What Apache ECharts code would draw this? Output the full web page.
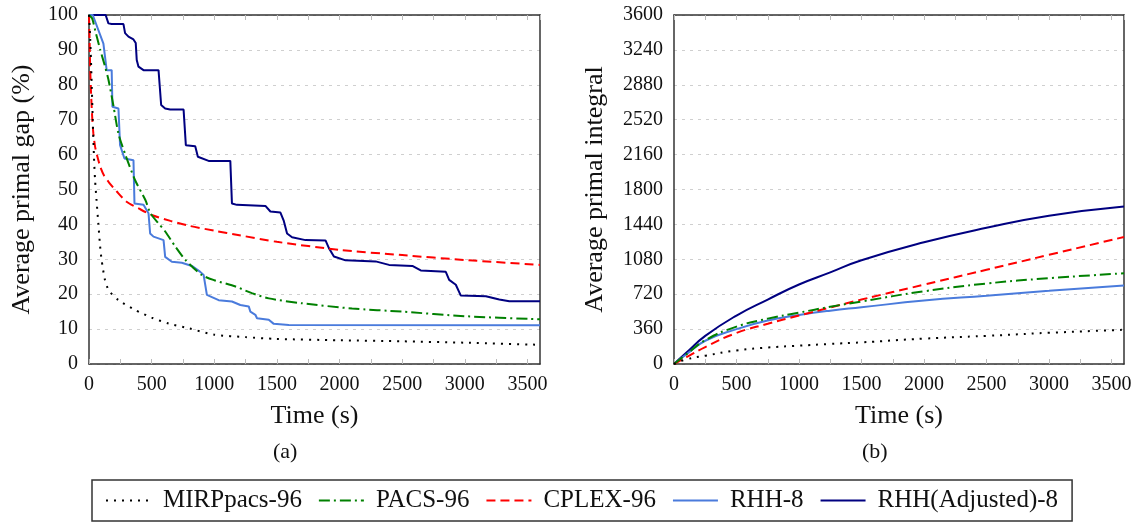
<!DOCTYPE html>
<html>
<head>
<meta charset="utf-8">
<script src="https://cdn.jsdelivr.net/npm/echarts@6/dist/echarts.min.js"></script>
<style>html,body{margin:0;padding:0;background:#fff;}#c{width:1137px;height:524px;}</style>
</head>
<body>
<div id="c"></div>
<script>
// ---------- DATA ----------
const seriesNames = ['MIRPpacs-96', 'PACS-96', 'CPLEX-96', 'RHH-8', 'RHH(Adjusted)-8'];
const xTickLabels = ['0', '500', '1000', '1500', '2000', '2500', '3000', '3500'];

// (a) Average primal gap (%)
const gapMirpT = [0, 10, 20, 30, 40, 48, 60, 75, 88, 100, 128, 160, 235, 368, 500, 635, 800, 1000, 1250, 1488, 2000, 2500, 3000, 3600];
const gapMirpV = [100, 93, 82, 70, 59, 53, 47, 40, 34, 30, 24, 21, 18.3, 15.5, 13.3, 11.6, 10.2, 8.4, 7.7, 7.2, 6.8, 6.5, 6.1, 5.5];

const gapPacsT = [0, 25, 50, 90, 130, 155, 195, 235, 290, 370, 450, 490, 550, 610, 690, 770, 900, 1000, 1170, 1300, 1435, 1700, 2100, 2500, 3000, 3600];
const gapPacsV = [100, 99, 95.5, 90, 85, 81.5, 74, 66, 60, 52.5, 47, 43.2, 40.5, 37.9, 33.6, 29.8, 25.5, 24, 22.2, 20.3, 18.8, 17.4, 15.9, 15, 13.7, 12.8];

const gapCplexT = [0, 5, 10, 16, 25, 35, 50, 70, 90, 120, 160, 220, 300, 400, 500, 650, 800, 1000, 1200, 1500, 2000, 2500, 3000, 3600];
const gapCplexV = [100, 92, 84, 78, 71, 66, 62, 59, 56.5, 54, 52, 49.5, 46.5, 44.5, 42.7, 41, 39.6, 38.2, 36.9, 35, 32.7, 31.2, 29.8, 28.4];

const gapRhhT = [0, 30, 115, 141, 181, 187, 235, 248, 283, 355, 363, 435, 475, 488, 515, 595, 608, 661, 741, 821, 888, 915, 941, 1035, 1141, 1208, 1275, 1288, 1328, 1341, 1435, 1475, 1595, 3600];
const gapRhhV = [100, 100, 91.8, 84.2, 84.2, 73.7, 73.2, 62.7, 58.9, 58.4, 46, 45.6, 43.2, 37.4, 36.5, 35.5, 30.7, 29.3, 29, 28.1, 26.4, 25.5, 19.8, 18.3, 17.9, 16.9, 16.5, 15, 14.1, 13.1, 12.7, 11.5, 11.2, 11.1];

const gapAdjT = [0, 133, 155, 181, 275, 288, 315, 355, 373, 381, 395, 435, 555, 576, 608, 648, 755, 773, 848, 869, 955, 1128, 1141, 1181, 1408, 1448, 1528, 1555, 1581, 1621, 1728, 1888, 1915, 1955, 2048, 2288, 2395, 2581, 2648, 2848, 2875, 2928, 2968, 3168, 3275, 3355, 3600];
const gapAdjV = [100, 100, 97.6, 97.4, 97.4, 94.8, 93.8, 93, 92, 87.1, 85.2, 84.2, 84.2, 74.2, 73.2, 72.9, 72.9, 62.7, 62.4, 59.4, 58.2, 58.2, 46, 45.6, 45.3, 43.7, 43.4, 41, 37.4, 36.3, 35.5, 35.4, 33.2, 30.8, 29.7, 29.4, 28.4, 28.1, 26.8, 26.4, 24.1, 22.7, 19.6, 19.4, 18.5, 18, 18];

// (b) Average primal integral
const intT = [0, 100, 250, 500, 750, 1000, 1250, 1500, 2000, 2500, 3000, 3600];
const intMirp = [0, 48, 85, 140, 170, 189, 207, 223, 262, 290, 322, 353];
const intPacs = [0, 100, 245, 385, 468, 530, 590, 645, 750, 830, 885, 935];
const intCplex = [0, 70, 175, 320, 415, 500, 583, 665, 818, 972, 1126, 1310];
const intRhh = [0, 100, 240, 360, 448, 505, 550, 585, 655, 705, 755, 810];
const intAdj = [0, 118, 290, 500, 665, 820, 945, 1070, 1255, 1405, 1530, 1625];

// ---------- STYLE ----------
const FONT = 'Liberation Serif';
const colors = ['#000000', '#008000', '#ff0000', '#4a7bdc', '#000080'];
const dashes = [[2, 6], [11, 4, 2, 4], [9, 5], 'solid', 'solid'];

function zip(t, v) { return t.map((x, i) => [x, v[i]]); }

const gapData = [zip(gapMirpT, gapMirpV), zip(gapPacsT, gapPacsV), zip(gapCplexT, gapCplexV), zip(gapRhhT, gapRhhV), zip(gapAdjT, gapAdjV)];
const intData = [zip(intT, intMirp), zip(intT, intPacs), zip(intT, intCplex), zip(intT, intRhh), zip(intT, intAdj)];
const gapSmooth = [0.25, 0.25, 0.25, false, false];

function xAxisBottom(grid) {
  return {
    type: 'value', gridIndex: grid, min: 0, max: 3600, interval: 250, position: 'bottom',
    axisLine: { show: true, onZero: false, lineStyle: { color: '#333', width: 1.5 } },
    axisTick: { show: true, inside: true, length: 5, lineStyle: { color: '#bbb', width: 1 } },
    axisLabel: {
      show: true, margin: 11, fontFamily: FONT, fontSize: 20, color: '#111', showMaxLabel: false,
      formatter: v => (v % 500 === 0 ? xTickLabels[v / 500] : '')
    },
    splitLine: { show: false },
    name: 'Time (s)', nameLocation: 'middle', nameGap: 39,
    nameTextStyle: { fontFamily: FONT, fontSize: 26, color: '#111' }
  };
}
function xAxisTop(grid) {
  return {
    type: 'value', gridIndex: grid, min: 0, max: 3600, interval: 250, position: 'top',
    axisLine: { show: true, onZero: false, lineStyle: { color: '#333', width: 1.5 } },
    axisTick: { show: true, inside: true, length: 5, lineStyle: { color: '#bbb', width: 1 } },
    axisLabel: { show: false }, splitLine: { show: false }
  };
}
function yAxisLeft(grid, max, interval, name, gap) {
  return {
    type: 'value', gridIndex: grid, min: 0, max: max, interval: interval, position: 'left',
    axisLine: { show: true, onZero: false, lineStyle: { color: '#333', width: 1.5 } },
    axisTick: { show: false },
    axisLabel: { margin: 11, fontFamily: FONT, fontSize: 20, color: '#111', formatter: v => String(v) },
    splitLine: { show: true, lineStyle: { color: '#cfcfcf', type: [3, 5], width: 1 } },
    name: name, nameLocation: 'middle', nameGap: gap,
    nameTextStyle: { fontFamily: FONT, fontSize: 26, color: '#111' }
  };
}
function yAxisRight(grid, max, interval) {
  return {
    type: 'value', gridIndex: grid, min: 0, max: max, interval: interval, position: 'right',
    axisLine: { show: true, onZero: false, lineStyle: { color: '#333', width: 1.5 } },
    axisTick: { show: false }, axisLabel: { show: false }, splitLine: { show: false }
  };
}

const series = [];
seriesNames.forEach((n, i) => {
  series.push({
    name: n, type: 'line', xAxisIndex: 0, yAxisIndex: 0, data: gapData[i],
    showSymbol: false, symbol: 'none', smooth: gapSmooth[i],
    lineStyle: { color: colors[i], width: 2, type: dashes[i] }, itemStyle: { color: colors[i] },
    z: 10 - i
  });
});
seriesNames.forEach((n, i) => {
  series.push({
    name: n, type: 'line', xAxisIndex: 2, yAxisIndex: 2, data: intData[i],
    showSymbol: false, symbol: 'none', smooth: 0.5,
    lineStyle: { color: colors[i], width: 2, type: dashes[i] }, itemStyle: { color: colors[i] },
    z: 10 - i
  });
});

const chart = echarts.init(document.getElementById('c'), null, { renderer: 'canvas' });
chart.setOption({
  animation: false,
  backgroundColor: '#fff',
  grid: [
    { left: 89, top: 15, width: 451, height: 349 },
    { left: 674, top: 15, width: 450, height: 349 }
  ],
  xAxis: [xAxisBottom(0), xAxisTop(0), xAxisBottom(1), xAxisTop(1)],
  yAxis: [
    yAxisLeft(0, 100, 10, 'Average primal gap (%)', 54), yAxisRight(0, 100, 10),
    yAxisLeft(1, 3600, 360, 'Average primal integral', 66), yAxisRight(1, 3600, 360)
  ],
  legend: {
    data: seriesNames, left: 92, top: 480,
    padding: [8, 14, 8, 13], itemGap: 16, itemWidth: 45, itemHeight: 14,
    borderColor: '#333', borderWidth: 1.5,
    itemStyle: { opacity: 0 },
    textStyle: { fontFamily: FONT, fontSize: 25, color: '#111', padding: [0, 0, 0, 7] }
  },
  graphic: [
    { type: 'text', left: 273, top: 441, style: { text: '(a)', font: '22px "Liberation Serif"', fill: '#111' } },
    { type: 'text', left: 862, top: 441, style: { text: '(b)', font: '22px "Liberation Serif"', fill: '#111' } }
  ],
  series: series
});
</script>
</body>
</html>
